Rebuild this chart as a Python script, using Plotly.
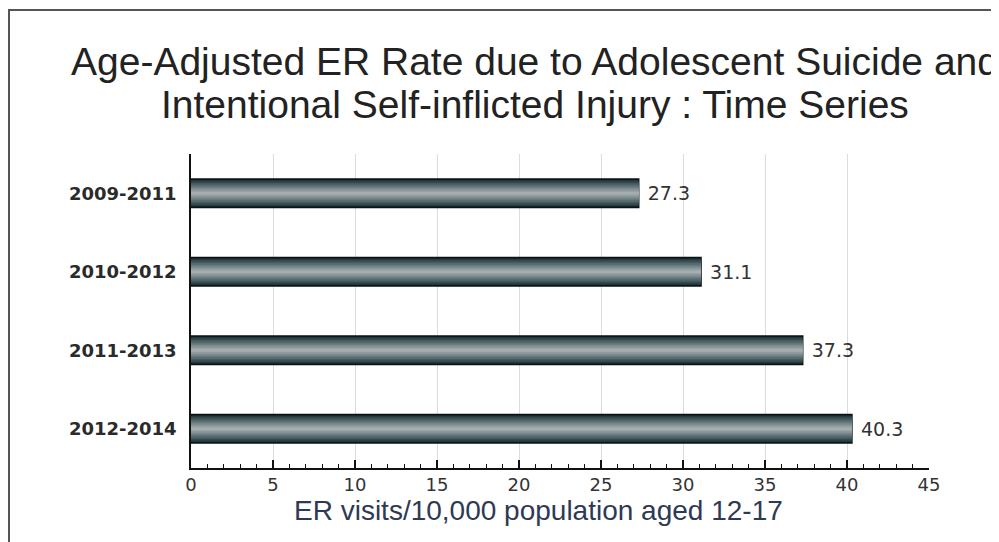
import plotly.graph_objects as go

# data
periods = ["2009-2011", "2010-2012", "2011-2013", "2012-2014"]
rates = [27.3, 31.1, 37.3, 40.3]

title_line1 = "Age-Adjusted ER Rate due to Adolescent Suicide and"
title_line2 = "Intentional Self-inflicted Injury : Time Series"
xaxis_text = "ER visits/10,000 population aged 12-17"

# fake the shiny cylinder look by stacking narrower, lighter bars
bands = [
    (0.36, "#15262a"),
    (0.33, "#263b40"),
    (0.30, "#34494e"),
    (0.26, "#435a5f"),
    (0.22, "#566a6e"),
    (0.18, "#687a7d"),
    (0.14, "#7a898c"),
    (0.10, "#8b979a"),
    (0.06, "#99a4a6"),
    (0.03, "#a4adaf"),
]

fig = go.Figure()
for i, (w, col) in enumerate(bands):
    first = i == 0
    fig.add_trace(go.Bar(
        x=rates,
        y=periods,
        orientation="h",
        width=w,
        marker=dict(color=col,
                    line=dict(color="#0b1214" if first else col, width=1.5 if first else 0)),
        text=[f" {v:.1f}" for v in rates] if first else None,
        textposition="outside" if first else "none",
        textfont=dict(family="DejaVu Sans", size=19, color="#333333"),
        cliponaxis=False,
        showlegend=False,
        hoverinfo="x+y",
    ))

fig.update_layout(
    width=999,
    height=542,
    barmode="overlay",
    plot_bgcolor="white",
    paper_bgcolor="white",
    margin=dict(l=183, r=78, t=146, b=82),
    xaxis=dict(
        range=[0, 45],
        dtick=5,
        showgrid=True,
        gridcolor="#dcdcdc",
        gridwidth=1,
        showline=True,
        linecolor="#111111",
        linewidth=1.5,
        ticks="inside",
        ticklen=8,
        tickwidth=1.5,
        tickcolor="#111111",
        minor=dict(dtick=1, ticks="inside", ticklen=4, tickwidth=1.2,
                   tickcolor="#111111", showgrid=False),
        tickfont=dict(family="DejaVu Sans", size=18, color="#333333"),
        zeroline=False,
        fixedrange=True,
    ),
    yaxis=dict(
        autorange="reversed",
        showline=True,
        linecolor="#111111",
        linewidth=1.5,
        ticks="",
        ticklabelstandoff=9,
        tickfont=dict(family="DejaVu Sans", size=18, color="#2a2a2a", weight="bold"),
        showgrid=False,
    ),
    annotations=[
        dict(text=title_line1, xref="paper", yref="paper", x=0.4668, y=1.293,
             xanchor="center", yanchor="middle", showarrow=False,
             font=dict(family="Liberation Sans", size=39, color="#222222")),
        dict(text=title_line2, xref="paper", yref="paper", x=0.4668, y=1.159,
             xanchor="center", yanchor="middle", showarrow=False,
             font=dict(family="Liberation Sans", size=39, color="#222222")),
        dict(text=xaxis_text, xref="paper", yref="paper", x=0.4715, y=-0.1338,
             xanchor="center", yanchor="middle", showarrow=False,
             font=dict(family="Liberation Sans", size=28, color="#2e3a55")),
    ],
    shapes=[
        dict(type="rect", xref="paper", yref="paper",
             x0=-0.2466, x1=1.3, y0=-0.6, y1=1.4586,
             line=dict(color="#555555", width=2), fillcolor="rgba(0,0,0,0)",
             layer="below"),
    ],
)

fig.write_html("out.html")
